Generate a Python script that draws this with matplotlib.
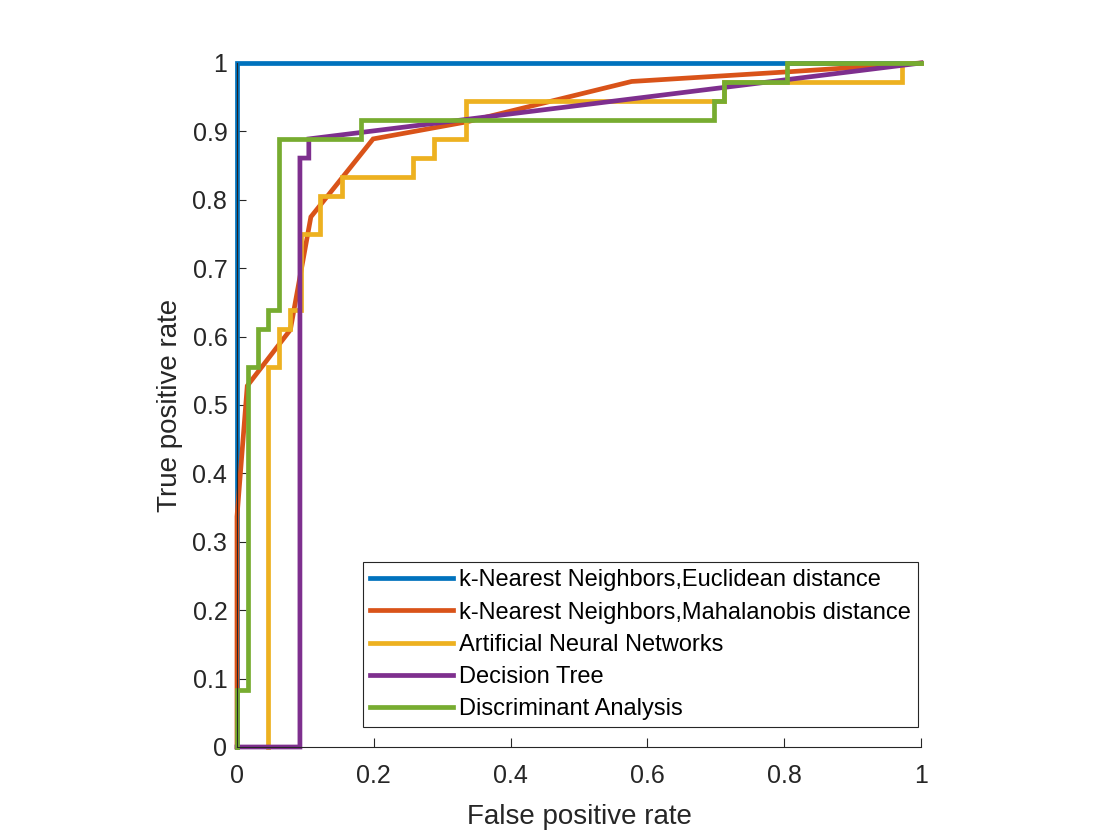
import matplotlib
matplotlib.use('Agg')
import matplotlib.pyplot as plt
from matplotlib.ticker import FormatStrFormatter

plt.rcParams['font.family'] = ['Liberation Sans', 'DejaVu Sans']

# ROC curves (false positive rate, true positive rate)
knn_euc_fpr = [0, 0, 1]
knn_euc_tpr = [0, 1, 1]

knn_mah_fpr = [0, 0, 0.015, 0.078, 0.108, 0.199, 0.336, 0.577, 0.804, 1]
knn_mah_tpr = [0, 0.337, 0.528, 0.610, 0.775, 0.889, 0.914, 0.973, 0.987, 1]

ann_fpr = [0.046, 0.046, 0.061, 0.061, 0.0775, 0.0775, 0.093, 0.093, 0.121, 0.121,
           0.153, 0.153, 0.258, 0.258, 0.288, 0.288, 0.335, 0.335, 0.699, 0.699,
           0.712, 0.712, 0.972, 0.972, 1]
ann_tpr = [0, 0.556, 0.556, 0.611, 0.611, 0.639, 0.639, 0.750, 0.750, 0.806,
           0.806, 0.833, 0.833, 0.861, 0.861, 0.889, 0.889, 0.944, 0.944, 0.944,
           0.944, 0.972, 0.972, 1, 1]

tree_fpr = [0, 0.092, 0.092, 0.105, 0.105, 1]
tree_tpr = [0, 0, 0.861, 0.861, 0.889, 1]

lda_fpr = [0, 0, 0.0156, 0.0156, 0.031, 0.031, 0.046, 0.046, 0.062, 0.062,
           0.182, 0.182, 0.697, 0.697, 0.712, 0.712, 0.804, 0.804, 1]
lda_tpr = [0, 0.083, 0.083, 0.556, 0.556, 0.611, 0.611, 0.639, 0.639, 0.889,
           0.889, 0.917, 0.917, 0.944, 0.944, 0.972, 0.972, 1, 1]

labels = ['k-Nearest Neighbors,Euclidean distance',
          'k-Nearest Neighbors,Mahalanobis distance',
          'Artificial Neural Networks',
          'Decision Tree',
          'Discriminant Analysis']
colors = ['#0072BD', '#D95319', '#EDB120', '#7E2F8E', '#77AC30']

curves = [(knn_euc_fpr, knn_euc_tpr), (knn_mah_fpr, knn_mah_tpr),
          (ann_fpr, ann_tpr), (tree_fpr, tree_tpr), (lda_fpr, lda_tpr)]

axcol = '#262626'

fig = plt.figure(figsize=(11.2, 8.4), dpi=100)
ax = fig.add_axes([237/1120, 1-747/840, 684/1120, 684/840])

for (fx, ty), lab, c in zip(curves, labels, colors):
    ax.plot(fx, ty, color=c, lw=3.4, label=lab, clip_on=False, solid_joinstyle='miter')

ax.set_xlim(0, 1)
ax.set_ylim(0, 1)
ax.set_xticks([0, 0.2, 0.4, 0.6, 0.8, 1])
ax.set_yticks([i/10 for i in range(11)])
ax.xaxis.set_major_formatter(FormatStrFormatter('%g'))
ax.yaxis.set_major_formatter(FormatStrFormatter('%g'))
ax.tick_params(direction='in', length=6.5, width=0.8, colors=axcol, labelsize=18)
ax.tick_params(axis='x', pad=12)
ax.tick_params(axis='y', pad=7)
for s in ['top', 'right']:
    ax.spines[s].set_visible(False)
for s in ['left', 'bottom']:
    ax.spines[s].set_color(axcol)
    ax.spines[s].set_linewidth(0.8)

ax.set_xlabel('False positive rate', fontsize=20, color=axcol, labelpad=12)
ax.set_ylabel('True positive rate', fontsize=20, color=axcol, labelpad=7)

leg = ax.legend(loc='lower right', bbox_to_anchor=(0.9956, 0.029), borderaxespad=0,
                fontsize=17, fancybox=False, framealpha=1, edgecolor='#262626',
                handlelength=3.5, handletextpad=0.25, labelspacing=0.43,
                borderpad=0.3)
leg.get_frame().set_linewidth(0.8)

fig.savefig('out.png', dpi=100)
